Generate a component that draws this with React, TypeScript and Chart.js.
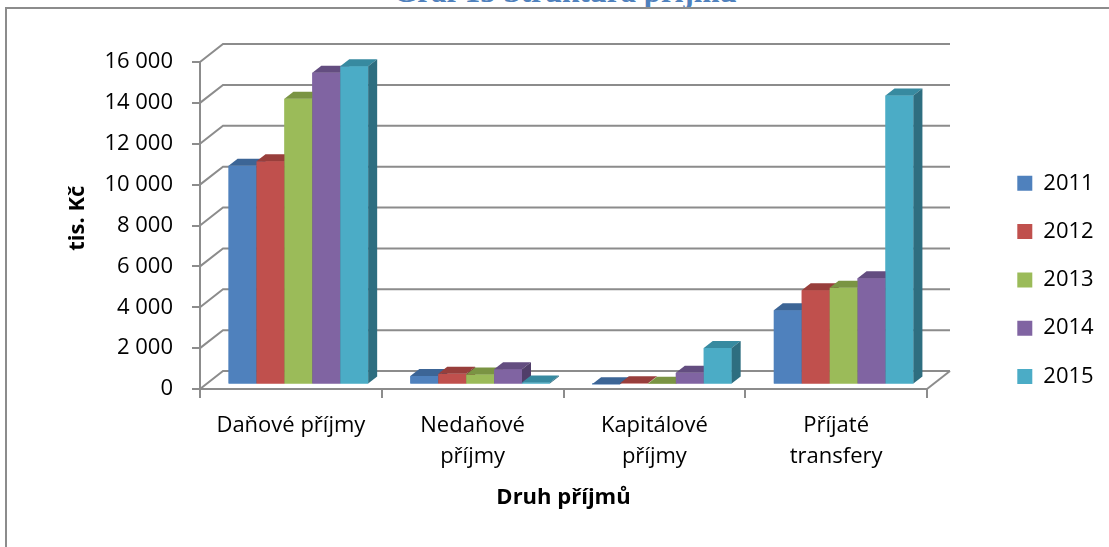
import React, { useEffect, useRef } from 'react';
import { Chart, registerables } from 'chart.js';

Chart.register(...registerables);

// ---------- data ----------
const chartTitle = 'Graf 13 Struktura příjmů';
const categories: (string | string[])[] = [
  'Daňové příjmy',
  ['Nedaňové', 'příjmy'],
  ['Kapitálové', 'příjmy'],
  ['Příjaté', 'transfery'],
];
const years = ['2011', '2012', '2013', '2014', '2015'];
const values2011 = [10700, 410, 10, 3630];
const values2012 = [10920, 520, 60, 4610];
const values2013 = [13980, 490, 40, 4730];
const values2014 = [15250, 750, 570, 5200];
const values2015 = [15570, 100, 1790, 14140];
const yMin = 0;
const yMax = 16000;
const yStep = 2000;
const yAxisTitle = 'tis. Kč';
const xAxisTitle = 'Druh příjmů';

// ---------- styles ----------
const frontColors = ['#4F81BD', '#C0504D', '#9BBB59', '#8064A2', '#4BACC6'];
const topColors = ['#3C6596', '#983E3B', '#7A9443', '#634D80', '#378AA0'];
const sideColors = ['#2F5079', '#7C302E', '#637A36', '#503E69', '#2E6E80'];
const GRID = '#8c8c8c';
const WALL_DX = 23;
const WALL_DY = -18;
const BAR_TX = 7.5;
const BAR_TY = -4.5;
const BAR_DX = 9;
const BAR_DY = -7;

const fmt = (v: number) => String(v).replace(/\B(?=(\d{3})+(?!\d))/g, ' ');

const threeD = {
  id: 'threeD',
  beforeDatasetsDraw(chart: any) {
    const { ctx, chartArea } = chart;
    const { left, right, bottom } = chartArea;
    const ys = chart.scales.y;
    ctx.save();
    ctx.strokeStyle = GRID;
    ctx.lineWidth = 2;
    ys.ticks.forEach((t: any) => {
      const y = ys.getPixelForValue(t.value);
      ctx.beginPath();
      ctx.moveTo(left, y);
      ctx.lineTo(left + WALL_DX, y + WALL_DY);
      ctx.lineTo(right + WALL_DX, y + WALL_DY);
      ctx.stroke();
    });
    ctx.beginPath();
    ctx.moveTo(right, bottom);
    ctx.lineTo(right + WALL_DX, bottom + WALL_DY);
    ctx.stroke();
    ctx.restore();
    ctx.save();
    ctx.translate(BAR_TX, BAR_TY);
  },
  afterDatasetsDraw(chart: any) {
    const { ctx } = chart;
    chart.data.datasets.forEach((_ds: any, i: number) => {
      const meta = chart.getDatasetMeta(i);
      meta.data.forEach((bar: any) => {
        bar.draw(ctx, chart.chartArea);
        const { x, y, base, width } = bar.getProps(['x', 'y', 'base', 'width'], true);
        const l = x - width / 2;
        const r = x + width / 2;
        ctx.fillStyle = topColors[i];
        ctx.beginPath();
        ctx.moveTo(l, y);
        ctx.lineTo(l + BAR_DX, y + BAR_DY);
        ctx.lineTo(r + BAR_DX, y + BAR_DY);
        ctx.lineTo(r, y);
        ctx.closePath();
        ctx.fill();
        ctx.fillStyle = sideColors[i];
        ctx.beginPath();
        ctx.moveTo(r, y);
        ctx.lineTo(r + BAR_DX, y + BAR_DY);
        ctx.lineTo(r + BAR_DX, base + BAR_DY);
        ctx.lineTo(r, base);
        ctx.closePath();
        ctx.fill();
      });
    });
    ctx.restore();
  },
};

export default function App() {
  const ref = useRef<HTMLCanvasElement>(null);
  useEffect(() => {
    if (!ref.current) return;
    Chart.defaults.font.family = "'Open Sans', sans-serif";
    const series = [values2011, values2012, values2013, values2014, values2015];
    const chart = new Chart(ref.current, {
      type: 'bar',
      data: {
        labels: categories,
        datasets: years.map((yr, i) => ({
          label: yr,
          data: series[i],
          backgroundColor: frontColors[i],
          borderWidth: 0,
          barPercentage: 1,
          categoryPercentage: 0.768,
        })),
      },
      options: {
        animation: false,
        responsive: false,
        layout: { padding: { top: 62, bottom: 49.2, left: 30, right: 10 } },
        plugins: {
          legend: {
            position: 'right',
            align: 'center',
            maxWidth: 108,
            labels: {
              boxWidth: 15,
              boxHeight: 15,
              padding: 26.3,
              color: '#000',
              font: { size: 22 },
            },
          },
          tooltip: { enabled: false },
        },
        scales: {
          x: {
            grid: {
              display: true,
              drawOnChartArea: false,
              drawTicks: true,
              tickLength: 9,
              color: GRID,
              lineWidth: 2,
              offset: true,
            },
            border: { display: true, color: GRID, width: 2 },
            ticks: {
              color: '#000',
              font: { size: 22, lineHeight: 1.44 },
              padding: 11.6,
              maxRotation: 0,
              autoSkip: false,
            },
            title: {
              display: true,
              text: xAxisTitle,
              color: '#000',
              font: { size: 22, weight: 'bold', lineHeight: 1.2 },
              padding: { top: 0, bottom: -13.5 },
            },
            afterFit: (s: any) => {
              s.height = 108.8;
            },
          },
          y: {
            min: yMin,
            max: yMax,
            ticks: {
              stepSize: yStep,
              color: '#000',
              font: { size: 22 },
              padding: 19,
              callback: (v: any) => fmt(Number(v)),
            },
            grid: {
              drawOnChartArea: false,
              drawTicks: true,
              tickLength: 8,
              color: GRID,
              lineWidth: 2,
            },
            border: { display: true, color: GRID, width: 2 },
            title: {
              display: true,
              text: '\u2002\u2009' + yAxisTitle,
              color: '#000',
              font: { size: 22, weight: 'bold', lineHeight: 1.2 },
              padding: { top: 34.3, bottom: 0 },
            },
            afterFit: (s: any) => {
              s.width = 170;
            },
          },
          y2: {
            type: 'linear',
            position: 'right',
            display: true,
            grid: { display: false },
            border: { display: false },
            ticks: { display: false },
            afterFit: (s: any) => {
              s.width = 64;
            },
          },
        },
      } as any,
      plugins: [threeD],
    });
    return () => chart.destroy();
  }, []);

  return (
    <div
      style={{
        position: 'fixed',
        left: 0,
        top: 0,
        width: 1109,
        height: 547,
        overflow: 'hidden',
        background: '#fff',
      }}
    >
      <div
        style={{
          position: 'absolute',
          left: 0,
          top: -23,
          width: 1130,
          textAlign: 'center',
          fontFamily: "'Liberation Serif', serif",
          fontWeight: 'bold',
          fontSize: 31,
          lineHeight: '30px',
          color: '#4F81BD',
          whiteSpace: 'nowrap',
        }}
      >
        {chartTitle}
      </div>
      <div
        style={{
          position: 'absolute',
          left: 5,
          top: 7,
          width: 1104,
          height: 540,
          borderTop: '2px solid #8c8c8c',
          borderLeft: '2px solid #8c8c8c',
        }}
      />
      <canvas
        ref={ref}
        width={1109}
        height={547}
        style={{ position: 'absolute', left: 0, top: 0, display: 'block' }}
      />
    </div>
  );
}
